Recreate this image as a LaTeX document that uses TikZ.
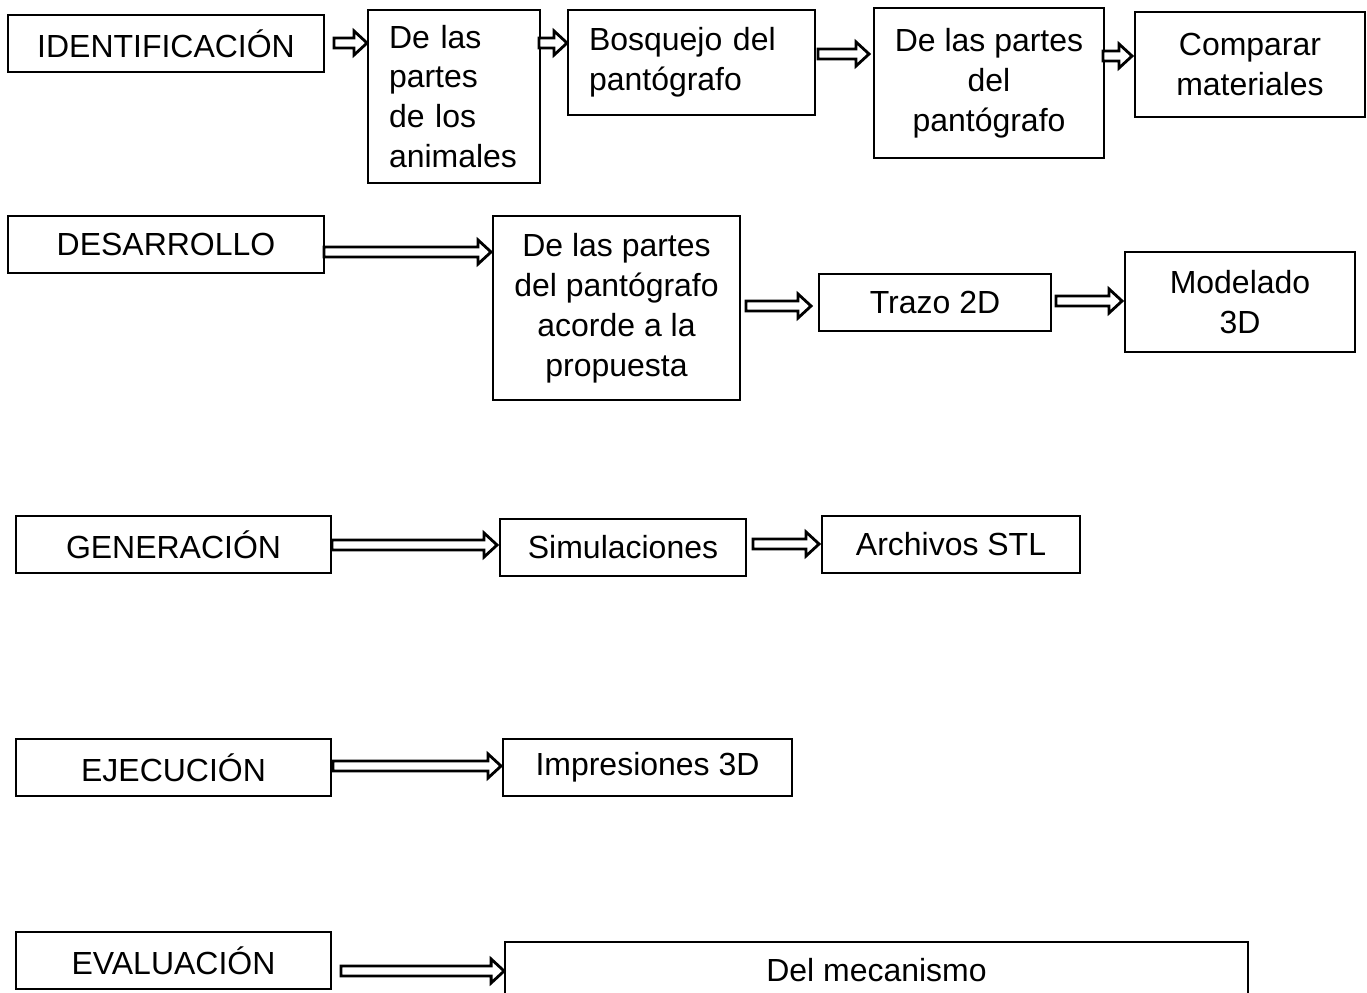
\documentclass[tikz,border=0pt]{standalone}
\usepackage{fontspec}
\setmainfont{Liberation Sans}
\usepackage{tikz}
\usetikzlibrary{calc}

\tikzset{
    caja/.style={draw, line width=1.1pt, inner sep=0pt, align=center,
        font=\fontsize{18.2}{22.7}\selectfont},
    flechabloque/.style={draw, line width=1.6pt, fill=white, line join=miter}
}

% hollow block arrow: start point (its y is used) and end point (its x is the tip)
\newcommand{\flecha}[2]{%
    \draw[flechabloque] let \p1=#1, \p2=#2 in
        (\x1,\y1+1mm) -- (\x2-2.6mm,\y1+1mm) -- (\x2-2.6mm,\y1+2.4mm)
        -- (\x2,\y1) -- (\x2-2.6mm,\y1-2.4mm) -- (\x2-2.6mm,\y1-1mm)
        -- (\x1,\y1-1mm) -- cycle;}

\begin{document}
\begin{tikzpicture}[x=0.02cm, y=-0.02cm]
        \useasboundingbox (0,0) rectangle (1367,993);
        \clip (0,0) rectangle (1367,993);

        % identificacion
        \node[caja, minimum width=6.32cm, minimum height=1.14cm] (ident) at (166,43.5) {IDENTIFICACIÓN};
        \node[caja, minimum width=3.44cm, minimum height=3.46cm, text width=2.6cm, align=left, inner xsep=0.42cm] (animales) at (454,96.5) {De las\\partes\\de los\\animales};
        \node[caja, minimum width=4.94cm, minimum height=2.1cm, text width=4.1cm, align=left, inner xsep=0.42cm] (bosquejo) at (691.5,62.5) {Bosquejo del\\pantógrafo};
        \node[caja, minimum width=4.6cm, minimum height=3cm] (partes) at (989,83) {De las partes\\del\\pantógrafo};
        \node[caja, minimum width=4.6cm, minimum height=2.1cm] (comparar) at (1250,64.5) {Comparar\\materiales};

        \flecha{($(ident.east)+(9,-0.5)$)}{(animales.west)}
        \flecha{($(animales.east |- ident.east)+(-2,-0.5)$)}{(bosquejo.west)}
        \flecha{($(bosquejo.east)+(2,-8.5)$)}{($(partes.west)+(-4,0)$)}
        \flecha{($(partes.east)+(-2,-27)$)}{($(comparar.west)+(-2,0)$)}

        % desarrollo
        \node[caja, minimum width=6.32cm, minimum height=1.14cm] (desarrollo) at (166,244.5) {DESARROLLO};
        \node[caja, minimum width=4.94cm, minimum height=3.68cm] (propuesta) at (616.5,308) {De las partes\\del pantógrafo\\acorde a la\\propuesta};
        \node[caja, minimum width=4.64cm, minimum height=1.14cm] (trazo) at (935,302.5) {Trazo 2D};
        \node[caja, minimum width=4.6cm, minimum height=2cm] (modelado) at (1240,302) {Modelado\\3D};

        \flecha{($(desarrollo.east)+(-1,7.5)$)}{($(propuesta.west)+(-1,0)$)}
        \flecha{($(propuesta.east)+(5,-2)$)}{($(trazo.west)+(-7,0)$)}
        \flecha{($(trazo.east)+(4,-1.5)$)}{($(modelado.west)+(-2,0)$)}

        % generacion
        \node[caja, minimum width=6.3cm, minimum height=1.14cm] (generacion) at (173.5,544.5) {GENERACIÓN};
        \node[caja, minimum width=4.92cm, minimum height=1.14cm] (simulaciones) at (623,547.5) {Simulaciones};
        \node[caja, minimum width=5.16cm, minimum height=1.14cm] (stl) at (951,544.5) {Archivos STL};

        \flecha{($(generacion.east)+(0,0.5)$)}{($(simulaciones.west)+(-2,0)$)}
        \flecha{($(simulaciones.east)+(6,-3.5)$)}{($(stl.west)+(-2,0)$)}

        % ejecucion
        \node[caja, minimum width=6.3cm, minimum height=1.14cm] (ejecucion) at (173.5,767.5) {EJECUCIÓN};
        \node[caja, minimum width=5.78cm, minimum height=1.14cm] (impresiones) at (647.5,767.5) {Impresiones 3D};

        \flecha{($(ejecucion.east)+(1,-1.5)$)}{($(impresiones.west)+(-1,0)$)}

        % evaluacion
        \node[caja, minimum width=6.3cm, minimum height=1.14cm] (evaluacion) at (173.5,960.5) {EVALUACIÓN};
        \node[caja, minimum width=14.86cm, minimum height=1.14cm] (mecanismo) at (876.5,970.5) {Del mecanismo};

        \flecha{($(evaluacion.east)+(9,10.5)$)}{(mecanismo.west)}
\end{tikzpicture}
\end{document}
